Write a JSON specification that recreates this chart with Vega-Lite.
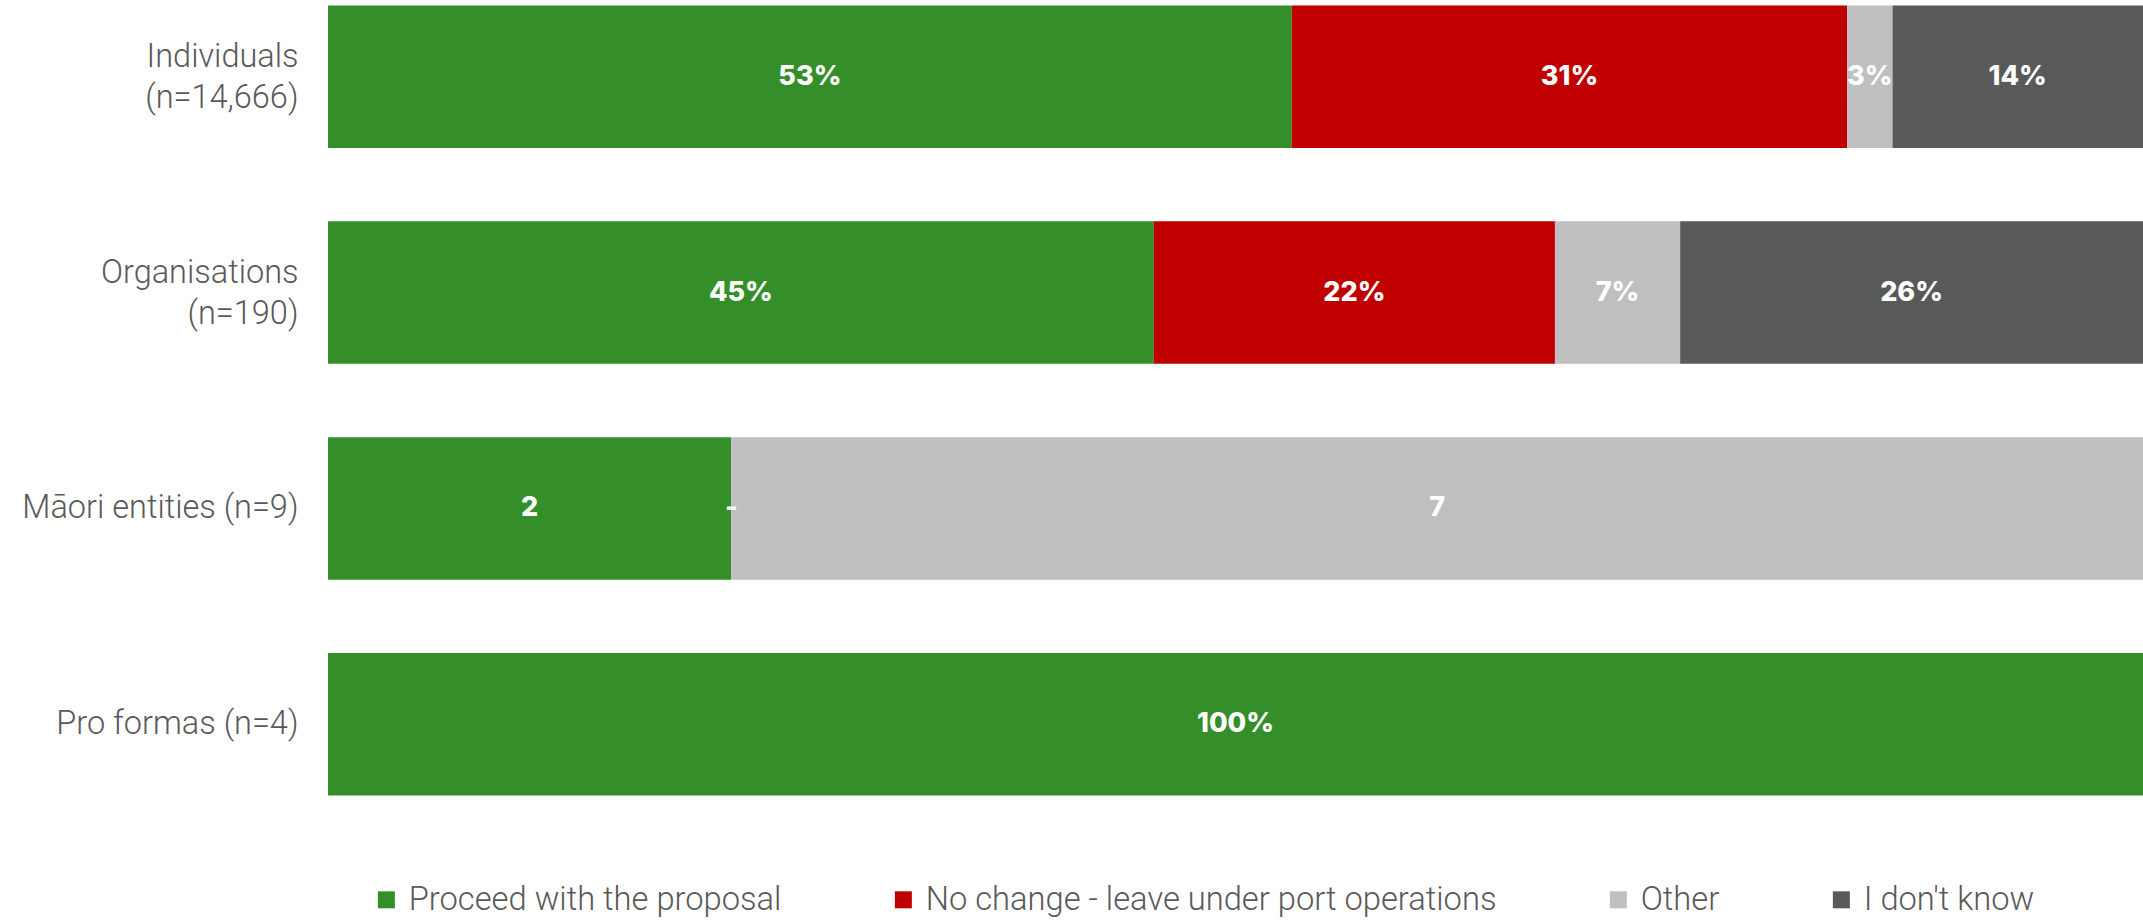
{
  "$schema": "https://vega.github.io/schema/vega-lite/v6.json",
  "autosize": {"type": "none"},
  "padding": {"left": 328, "top": 0, "right": 0, "bottom": 119},
  "width": 1815,
  "height": 801,
  "background": "white",
  "config": {"view": {"stroke": null}},
  "data": {
    "values": [
      {"group": "Individuals|(n=14,666)", "response": "Proceed with the proposal", "k": 1, "value": 53.1, "label": "53%"},
      {"group": "Individuals|(n=14,666)", "response": "No change - leave under port operations", "k": 2, "value": 30.6, "label": "31%"},
      {"group": "Individuals|(n=14,666)", "response": "Other", "k": 3, "value": 2.5, "label": "3%"},
      {"group": "Individuals|(n=14,666)", "response": "I don't know", "k": 4, "value": 13.8, "label": "14%"},
      {"group": "Organisations|(n=190)", "response": "Proceed with the proposal", "k": 1, "value": 45.5, "label": "45%"},
      {"group": "Organisations|(n=190)", "response": "No change - leave under port operations", "k": 2, "value": 22.1, "label": "22%"},
      {"group": "Organisations|(n=190)", "response": "Other", "k": 3, "value": 6.9, "label": "7%"},
      {"group": "Organisations|(n=190)", "response": "I don't know", "k": 4, "value": 25.5, "label": "26%"},
      {"group": "Māori entities (n=9)", "response": "Proceed with the proposal", "k": 1, "value": 2, "label": "2"},
      {"group": "Māori entities (n=9)", "response": "No change - leave under port operations", "k": 2, "value": 0, "label": "-"},
      {"group": "Māori entities (n=9)", "response": "Other", "k": 3, "value": 7, "label": "7"},
      {"group": "Pro formas (n=4)", "response": "Proceed with the proposal", "k": 1, "value": 4, "label": "100%"}
    ]
  },
  "encoding": {
    "y": {
      "field": "group",
      "type": "nominal",
      "sort": null,
      "title": null,
      "scale": {"paddingInner": 0.34, "paddingOuter": 0.025},
      "axis": {
        "labelExpr": "split(datum.label, '|')",
        "domain": false,
        "ticks": false,
        "labelPadding": 30,
        "labelFont": "Roboto",
        "labelFontWeight": 300,
        "labelFontSize": 32.5,
        "labelLineHeight": 41,
        "labelColor": "#595959",
        "labelLimit": 400,
        "labelOffset": {"condition": {"test": "indexof(datum.value, '|') >= 0", "value": -20}, "value": 0}
      }
    }
  },
  "layer": [
    {
      "mark": {"type": "bar"},
      "encoding": {
        "x": {"field": "value", "type": "quantitative", "stack": "normalize", "axis": null},
        "order": {"field": "k", "type": "quantitative"},
        "color": {
          "field": "response",
          "type": "nominal",
          "scale": {
            "domain": ["Proceed with the proposal", "No change - leave under port operations", "Other", "I don't know"],
            "range": ["#348F2A", "#C00000", "#BFBFBF", "#595959"]
          },
          "legend": {
            "title": null,
            "orient": "none",
            "legendX": 42,
            "legendY": 883,
            "direction": "horizontal",
            "columns": 4,
            "symbolType": "square",
            "symbolSize": 289,
            "symbolStrokeWidth": 0,
            "labelFont": "Roboto",
            "labelFontWeight": 300,
            "labelFontSize": 32.7,
            "labelColor": "#595959",
            "labelOffset": 6,
            "columnPadding": 105,
            "labelLimit": 800
          }
        }
      }
    },
    {
      "mark": {"type": "text", "color": "white", "font": "Inter", "fontWeight": 800, "fontSize": 27, "baseline": "middle", "align": "center"},
      "encoding": {
        "x": {"field": "value", "type": "quantitative", "stack": "normalize", "bandPosition": 0.5},
        "order": {"field": "k", "type": "quantitative"},
        "detail": {"field": "response"},
        "text": {"field": "label"}
      }
    }
  ]
}
